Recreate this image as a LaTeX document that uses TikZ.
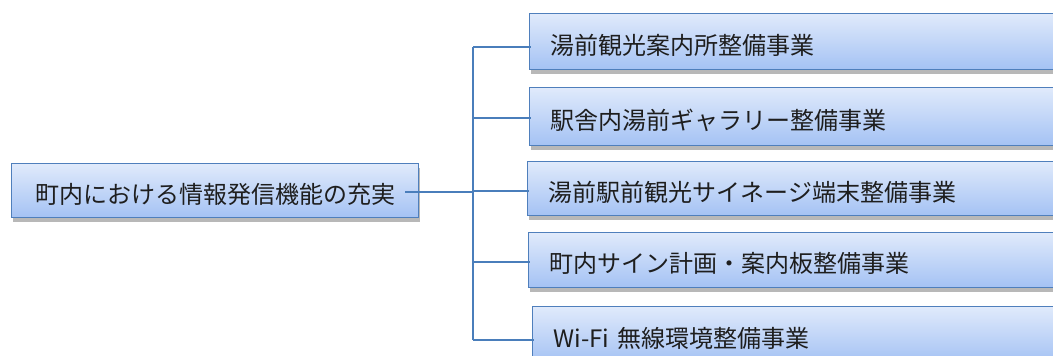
\documentclass[tikz,border=0pt]{standalone}
\usepackage{fontspec}
\setmainfont{Noto Sans CJK JP}
\usetikzlibrary{shadows}
\definecolor{boxtop}{HTML}{E0EAFB}
\definecolor{boxbot}{HTML}{A4C2F4}
\definecolor{boxline}{HTML}{4F7FBC}
\definecolor{conn}{HTML}{4A7EBB}
\definecolor{txt}{HTML}{1E1E1E}
\tikzset{
  itembox/.style={draw=boxline, line width=1.3pt, top color=boxtop, bottom color=boxbot,
    drop shadow={shadow xshift=1pt, shadow yshift=-4pt, fill=black, opacity=0.28},
    inner ysep=0pt, text height=25pt, text depth=0pt, text=txt,
    font=\fontsize{24pt}{26pt}\selectfont},
  rightbox/.style={itembox, anchor=north west, inner xsep=21pt, text width=540pt, align=left},
  conline/.style={draw=conn, line width=1.8pt}
}
\begin{document}
\begin{tikzpicture}[x=1pt, y=-1pt]
\useasboundingbox (0,0) rectangle (1053,356);
\clip (0,0) rectangle (1053,356);
\node[itembox, anchor=north west, minimum width=407pt, minimum height=54pt, inner xsep=0pt] (L) at (11,163) {町内における情報発信機能の充実};
\node[rightbox, minimum height=56pt] (r1) at (529,13) {湯前観光案内所整備事業};
\node[rightbox, minimum height=58pt] (r2) at (529,87) {駅舎内湯前ギャラリー整備事業};
\node[rightbox, minimum height=54pt] (r3) at (527,161) {湯前駅前観光サイネージ端末整備事業};
\node[rightbox, minimum height=55pt] (r4) at (528,232) {町内サイン計画・案内板整備事業};
\node[rightbox, minimum height=56pt] (r5) at (532,306) {Wi-Fi 無線環境整備事業};
\coordinate (jm) at (473,192);
\coordinate (j1) at (473,47);
\coordinate (j2) at (473,118);
\coordinate (j3) at (473,191);
\coordinate (j4) at (473,262);
\coordinate (j5) at (473,340);
\draw[conline] ([xshift=-14pt]L.east |- jm) -- (jm);
\draw[conline] (j1) -- (j5);
\draw[conline] (j1) -- ([xshift=2pt]j1 -| r1.west);
\draw[conline] (j2) -- ([xshift=2pt]j2 -| r2.west);
\draw[conline] (j3) -- ([xshift=2pt]j3 -| r3.west);
\draw[conline] (j4) -- ([xshift=2pt]j4 -| r4.west);
\draw[conline] (j5) -- ([xshift=2pt]j5 -| r5.west);
\end{tikzpicture}
\end{document}
